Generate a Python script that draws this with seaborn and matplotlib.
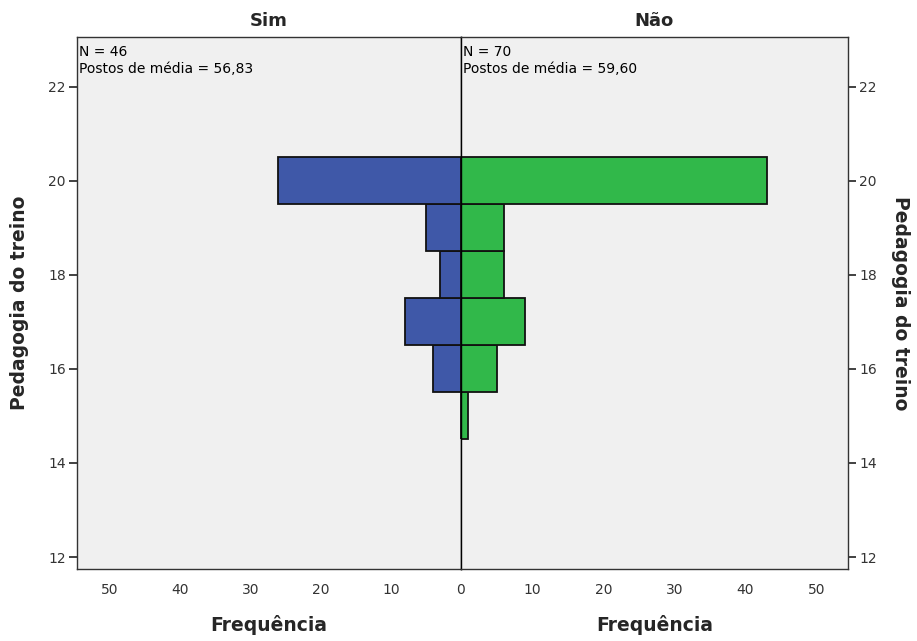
import matplotlib
matplotlib.use("Agg")
import matplotlib.pyplot as plt
import seaborn as sns
import pandas as pd

# Data
scores = [15, 16, 17, 18, 19, 20]
sim_counts = [0, 4, 8, 3, 5, 26]
nao_counts = [1, 5, 9, 6, 6, 43]
groups = ["Sim", "Não"]
n_labels = ["N = 46", "N = 70"]
rank_labels = ["Postos de média = 56,83", "Postos de média = 59,60"]
x_ticks = [0, 10, 20, 30, 40, 50]
y_ticks = [12, 14, 16, 18, 20, 22]

sns.set_theme(style="white")
plt.rcParams['font.family'] = ['DejaVu Sans']

fig = plt.figure(figsize=(9.17, 6.41), dpi=100)
ax_l = fig.add_axes([77/917, 1-569/641, 384/917, (569-37)/641])
ax_r = fig.add_axes([461/917, 1-569/641, 387/917, (569-37)/641])

df_l = pd.DataFrame({"score": scores, "count": sim_counts})
df_r = pd.DataFrame({"score": scores, "count": nao_counts})

sns.histplot(data=df_l, y="score", weights="count", discrete=True, ax=ax_l,
             color="#3F58A8", alpha=1, edgecolor="#111111", linewidth=1.3)
sns.histplot(data=df_r, y="score", weights="count", discrete=True, ax=ax_r,
             color="#31B84A", alpha=1, edgecolor="#111111", linewidth=1.3)

ax_l.set_xlim(54.7, 0)
ax_r.set_xlim(0, 54.4)
for ax in (ax_l, ax_r):
    ax.set_ylim(11.745, 23.06)
    ax.set_facecolor("#F0F0F0")
    ax.set_xticks(x_ticks)
    ax.set_yticks(y_ticks)
    for s in ax.spines.values():
        s.set_color("#333333")
        s.set_linewidth(1.0)
    ax.tick_params(axis="both", direction="out", length=6, width=1.3,
                   color="#333333", labelsize=10, labelcolor="#333333", pad=2)
    ax.tick_params(axis="x", pad=4)
    ax.set_xlabel("Frequência", fontsize=13.5, fontweight="bold", labelpad=13)

# single centre "0" label
ax_l.set_xticklabels([""] + [str(t) for t in x_ticks[1:]])

ax_l.spines["right"].set_color("black")
ax_r.spines["left"].set_color("black")
ax_l.tick_params(axis="y", left=True, right=False, labelleft=True)
ax_r.tick_params(axis="y", left=False, right=True, labelleft=False, labelright=True)
ax_r.yaxis.set_label_position("right")

ax_l.set_ylabel("Pedagogia do treino", fontsize=13.5, fontweight="bold", labelpad=14)
ax_r.set_ylabel("Pedagogia do treino", fontsize=13.5, fontweight="bold",
                rotation=-90, labelpad=24)

ax_l.set_title(groups[0], fontsize=13, fontweight="bold", pad=8)
ax_r.set_title(groups[1], fontsize=13, fontweight="bold", pad=8)

for ax, n, r in zip((ax_l, ax_r), n_labels, rank_labels):
    ax.text(0.004, 0.985, n + "\n" + r, transform=ax.transAxes, ha="left", va="top",
            fontsize=10, color="black", linespacing=1.3)

fig.savefig("out.png", dpi=100)
